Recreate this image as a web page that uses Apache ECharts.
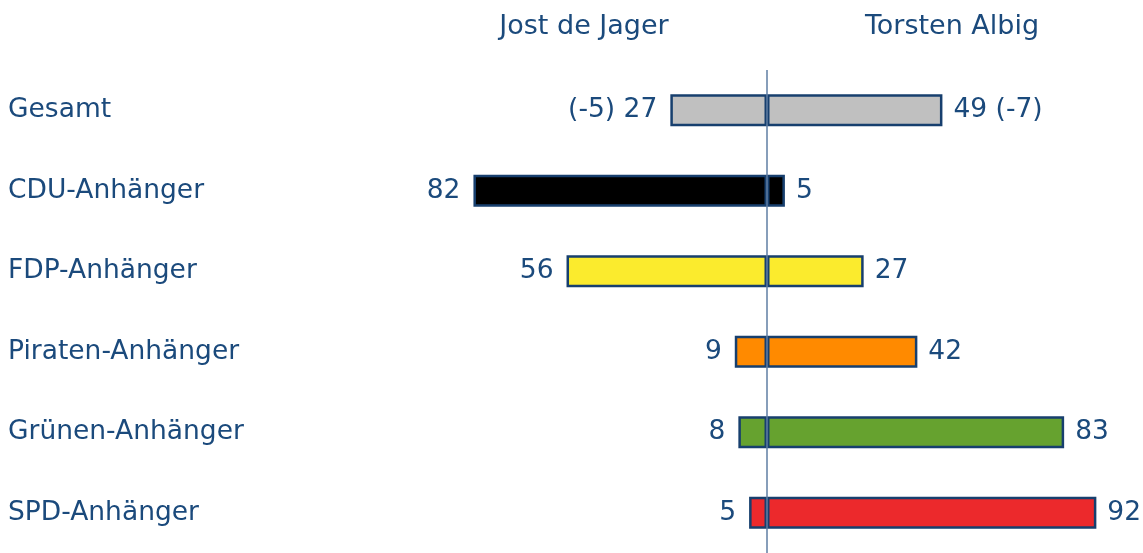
<!DOCTYPE html>
<html>
<head>
<meta charset="utf-8">
<script src="https://cdn.jsdelivr.net/npm/echarts@6/dist/echarts.min.js"></script>
<style>
  html, body { margin: 0; padding: 0; background: #fff; }
  #chart { width: 1143px; height: 553px; }
</style>
</head>
<body>
<div id="chart"></div>
<script>
// ========== Daten ==========
const categories = ['Gesamt', 'CDU-Anhänger', 'FDP-Anhänger', 'Piraten-Anhänger', 'Grünen-Anhänger', 'SPD-Anhänger'];
const jagerValues = [27, 82, 56, 9, 8, 5];
const albigValues = [49, 5, 27, 42, 83, 92];
const jagerLabels = ['(-5) 27', '82', '56', '9', '8', '5'];
const albigLabels = ['49 (-7)', '5', '27', '42', '83', '92'];
const candidates = ['Jost de Jager', 'Torsten Albig'];

// Farben je Gruppe
const barColors = ['#c0c0c0', '#000000', '#fbeb2d', '#ff8a00', '#66a22f', '#ec292c'];
const textColor = '#1b4a7c';
const borderColor = '#173f6e';
const font = 'DejaVu Sans, Verdana, sans-serif';

const chart = echarts.init(document.getElementById('chart'));

const itemsFor = (vals, sign) => vals.map((v, i) => ({
    value: sign * v,
    itemStyle: { color: barColors[i] }
}));

chart.setOption({
    animation: false,
    title: [
        { text: candidates[0], left: 579, top: 8, textAlign: 'center',
          textStyle: { color: textColor, fontSize: 27, fontWeight: 'normal', fontFamily: font } },
        { text: candidates[1], left: 947, top: 8, textAlign: 'center',
          textStyle: { color: textColor, fontSize: 27, fontWeight: 'normal', fontFamily: font } }
    ],
    grid: { left: 409, right: 18, top: 70, bottom: -5.4, containLabel: false },
    xAxis: {
        type: 'value', min: -100, max: 100, show: false
    },
    yAxis: {
        type: 'category',
        inverse: true,
        data: categories,
        axisLine: { show: false },
        axisTick: { show: false },
        splitLine: { show: false },
        axisLabel: {
            align: 'left',
            margin: 401,
            color: textColor,
            fontSize: 26.5,
            fontFamily: font
        }
    },
    series: [
        {
            name: candidates[0],
            type: 'bar',
            stack: 'total',
            barWidth: 32,
            data: itemsFor(jagerValues, -1),
            itemStyle: { borderColor: borderColor, borderWidth: 2.5 },
            label: {
                show: true,
                position: 'left',
                distance: 13,
                color: textColor,
                fontSize: 26.5,
                fontFamily: font,
                formatter: p => jagerLabels[p.dataIndex]
            },
            markLine: {
                silent: true,
                symbol: 'none',
                label: { show: false },
                lineStyle: { color: '#5f7ea3', width: 1.5, type: 'solid' },
                data: [{ xAxis: 0 }]
            }
        },
        {
            name: candidates[1],
            type: 'bar',
            stack: 'total',
            barWidth: 32,
            data: itemsFor(albigValues, 1),
            itemStyle: { borderColor: borderColor, borderWidth: 2.5 },
            label: {
                show: true,
                position: 'right',
                distance: 11,
                color: textColor,
                fontSize: 26.5,
                fontFamily: font,
                formatter: p => albigLabels[p.dataIndex]
            }
        }
    ]
});
</script>
</body>
</html>
